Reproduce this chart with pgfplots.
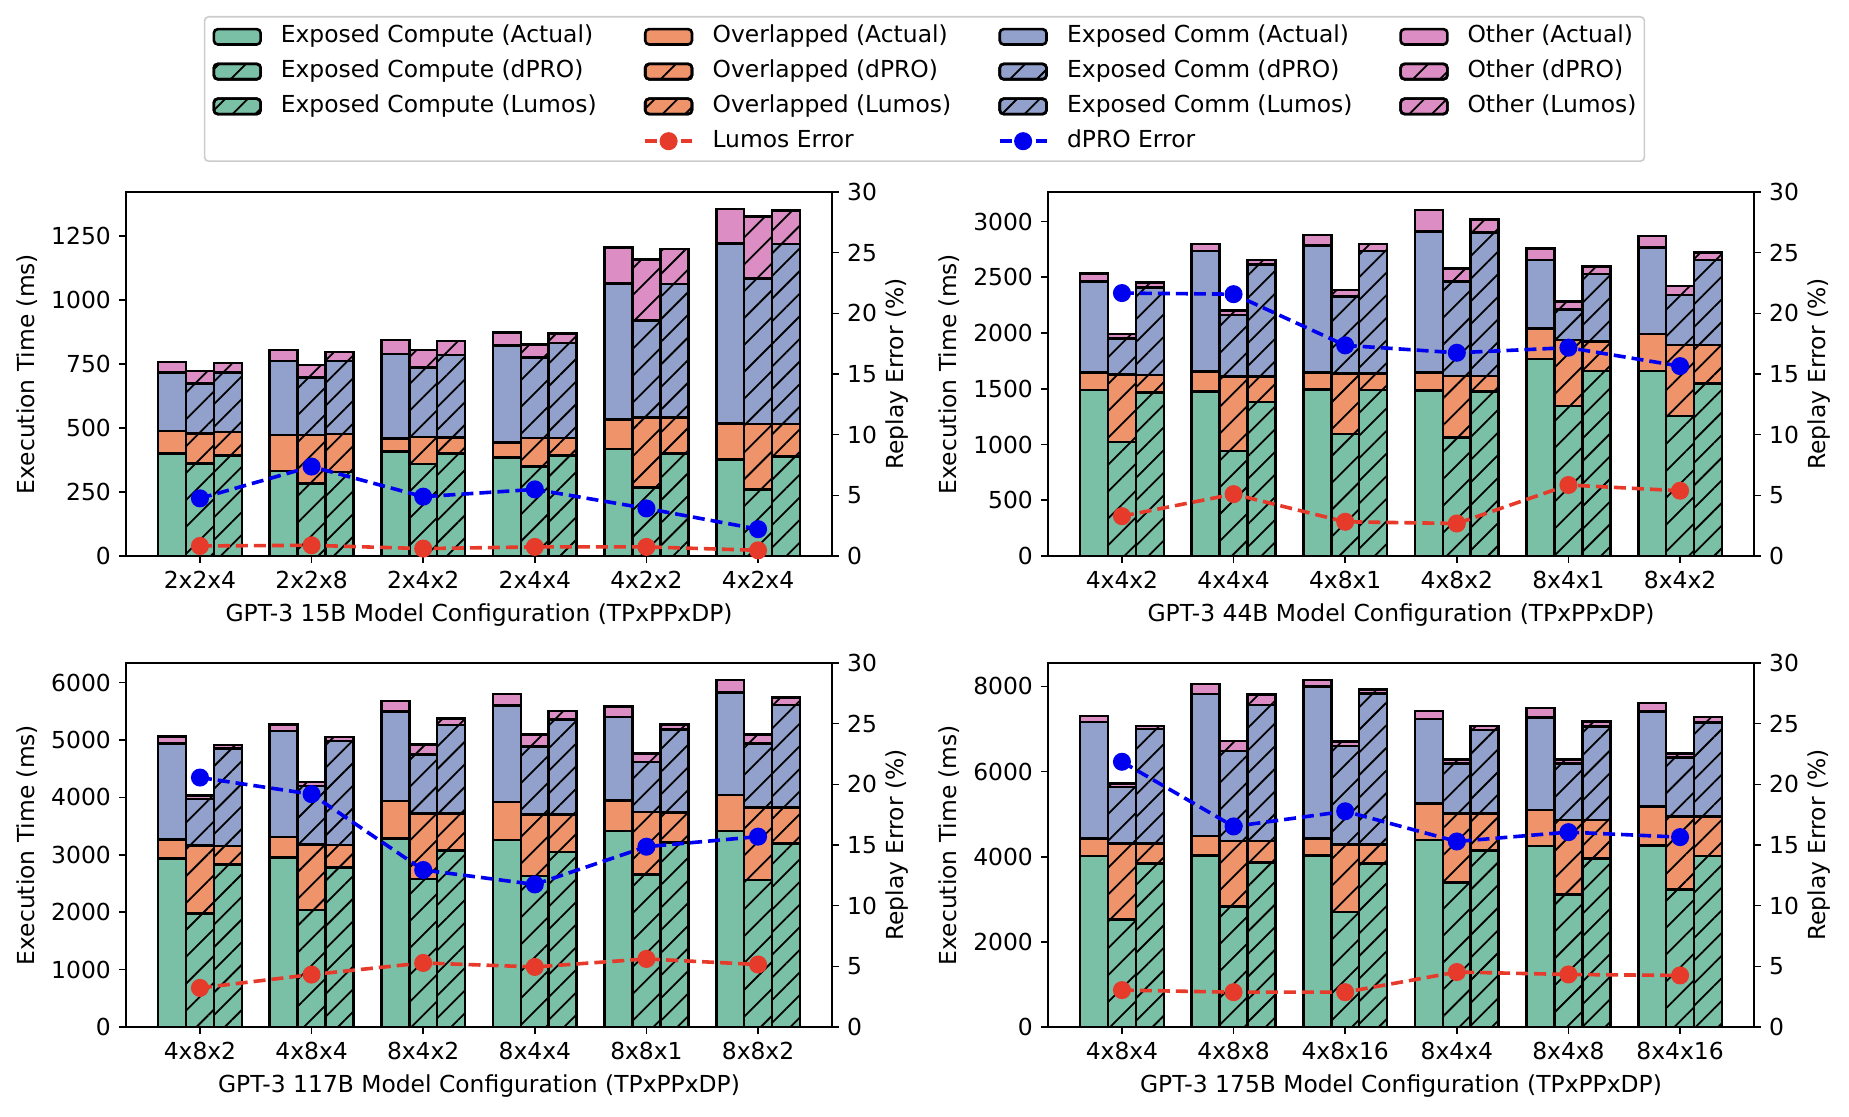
\documentclass[border=0pt]{standalone}
\usepackage{fontspec}
\setmainfont{DejaVu Sans}
\usepackage{pgfplots}
\usepackage{pgfplotstable}
\pgfplotsset{compat=1.18}
\usetikzlibrary{patterns.meta}

\definecolor{cg}{RGB}{122,192,166}
\definecolor{co}{RGB}{238,147,106}
\definecolor{cb}{RGB}{146,161,203}
\definecolor{cp}{RGB}{220,142,196}
\definecolor{cr}{RGB}{230,58,42}
\definecolor{cbl}{RGB}{0,0,240}

% x: group; a*=Actual, d*=dPRO, l*=Lumos; c=compute, o=overlapped, m=comm, t=other; le/de = errors (%)
\pgfplotstableread{
x ac ao am at dc do dm dt lc lo lm lt le de
0 401 87 229 42 362 117 196 49 394 91 233 37 0.83 4.75
1 332 141 290 42 283 190 224 49 329 148 286 35 0.88 7.37
2 408 52 330 55 359 106 273 68 401 63 322 55 0.61 4.89
3 384 60 378 52 351 111 315 50 393 69 370 37 0.75 5.49
4 418 116 531 142 268 273 380 238 401 140 522 137 0.75 3.92
5 377 142 702 135 260 256 569 242 388 128 704 131 0.47 2.21
}\tTL
\pgfplotstableread{
x ac ao am at dc do dm dt lc lo lm lt le de
0 1488 159 814 75 1024 605 323 39 1467 156 787 42 3.28 21.67
1 1473 180 1084 62 943 665 554 39 1383 225 1009 39 5.10 21.58
2 1494 150 1140 96 1093 545 688 60 1488 150 1099 62 2.82 17.36
3 1482 162 1266 195 1063 551 847 120 1473 141 1287 120 2.68 16.75
4 1766 276 614 104 1347 590 276 70 1659 263 608 66 5.85 17.17
5 1659 332 775 105 1254 638 449 81 1548 344 764 66 5.38 15.65
}\tTR
\pgfplotstableread{
x ac ao am at dc do dm dt lc lo lm lt le de
0 2936 331 1675 116 1977 1186 807 60 2831 320 1698 64 3.22 20.56
1 2948 360 1849 116 2035 1145 1018 69 2773 396 1814 69 4.32 19.19
2 3285 651 1558 186 2581 1140 1029 174 3076 645 1541 116 5.28 12.94
3 3256 663 1686 192 2628 1075 1181 215 3047 656 1657 146 4.95 11.75
4 3413 535 1453 180 2657 1087 872 151 3209 524 1453 87 5.61 14.86
5 3413 628 1785 215 2558 1262 1122 157 3192 628 1790 128 5.15 15.69
}\tBL
\pgfplotstableread{
x ac ao am at dc do dm dt lc lo lm lt le de
0 4016 415 2738 141 2525 1789 1325 86 3843 471 2682 79 3.04 21.86
1 4031 455 3334 235 2824 1545 2117 236 3859 510 3192 243 2.87 16.53
2 4031 393 3576 149 2706 1584 2314 102 3843 447 3545 87 2.87 17.78
3 4392 855 1984 196 3388 1632 1176 94 4149 871 1953 102 4.53 15.29
4 4251 847 2173 219 3114 1749 1325 102 3961 902 2196 117 4.33 16.06
5 4267 909 2228 204 3231 1710 1388 102 4016 925 2212 133 4.25 15.65
}\tBR

\pgfplotsset{
  /pgf/number format/assume math mode=true,
  /pgf/number format/1000 sep={},
  panel/.style={scale only axis, width=353pt, height=182pt,
    xmin=-0.6625, xmax=5.6625, ymin=0, enlargelimits=false,
    tick align=outside, major tick length=3.5pt,
    tick style={line width=0.8pt, black},
    axis line style={line width=0.8pt},
    anchor=south west},
  bs/.style={draw=black, line width=1.3pt},
  hd/.style={postaction={pattern={Lines[angle=45,distance=9.5pt,line width=0.9pt]}, pattern color=black}},
  hl/.style={postaction={pattern={Lines[angle=45,distance=8pt,line width=0.9pt]}, pattern color=black}},
  lerr/.style={cr, line width=1.8pt, dash pattern=on 6pt off 3pt, mark=*, mark size=3.6pt, mark options={solid, fill=cr, draw=cr}},
  derr/.style={cbl, line width=1.8pt, dash pattern=on 6pt off 3pt, mark=*, mark size=3.6pt, mark options={solid, fill=cbl, draw=cbl}},
  barleg/.style={legend image code/.code={\draw[##1] (0pt,-3.85pt) rectangle (23.4pt,3.85pt);}},
  lineleg/.style={legend image code/.code={\draw[##1, mark repeat=2, mark phase=2] plot coordinates {(0pt,0pt) (11.7pt,0pt) (23.4pt,0pt)};}},
}

% #1 x, #2 y, #3 table, #4 ymax, #5 yticks, #6 xticklabels, #7 xlabel
\newcommand{\panel}[7]{%
\begin{axis}[panel, at={(#1,#2)}, ymax=#4, ytick={#5},
    xtick={0,1,2,3,4,5}, xticklabels={#6}, xlabel={#7}, ylabel={Execution Time (ms)},
    tick pos=left,
    every axis x label/.style={at={(axis description cs:0.5,-0.162)}, anchor=center},
    every axis y label/.style={at={(axis description cs:-0.1402,0.5)}, rotate=90, anchor=center},
    ybar stacked, bar width=0.25]
  \addplot[bs, fill=cg, bar shift=-0.25] table[x=x,y=ac]{#3};
  \addplot[bs, fill=co, bar shift=-0.25] table[x=x,y=ao]{#3};
  \addplot[bs, fill=cb, bar shift=-0.25] table[x=x,y=am]{#3};
  \addplot[bs, fill=cp, bar shift=-0.25] table[x=x,y=at]{#3};
\end{axis}
\begin{axis}[panel, at={(#1,#2)}, ymax=#4, hide axis, ybar stacked, bar width=0.25]
  \addplot[bs, fill=cg, hd, bar shift=0] table[x=x,y=dc]{#3};
  \addplot[bs, fill=co, hd, bar shift=0] table[x=x,y=do]{#3};
  \addplot[bs, fill=cb, hd, bar shift=0] table[x=x,y=dm]{#3};
  \addplot[bs, fill=cp, hd, bar shift=0] table[x=x,y=dt]{#3};
\end{axis}
\begin{axis}[panel, at={(#1,#2)}, ymax=#4, hide axis, ybar stacked, bar width=0.25]
  \addplot[bs, fill=cg, hl, bar shift=0.25] table[x=x,y=lc]{#3};
  \addplot[bs, fill=co, hl, bar shift=0.25] table[x=x,y=lo]{#3};
  \addplot[bs, fill=cb, hl, bar shift=0.25] table[x=x,y=lm]{#3};
  \addplot[bs, fill=cp, hl, bar shift=0.25] table[x=x,y=lt]{#3};
\end{axis}
\begin{axis}[panel, at={(#1,#2)}, ymax=30, ytick={0,5,...,30},
    axis y line*=right, axis x line=none, ylabel={Replay Error (\%)},
    every axis y label/.style={at={(axis description cs:1.0922,0.5)}, rotate=90, anchor=center}]
  \addplot[lerr] table[x=x,y=le]{#3};
  \addplot[derr] table[x=x,y=de]{#3};
\end{axis}}

\begin{document}
\fontsize{11.7}{14}\selectfont
\begin{tikzpicture}
\useasboundingbox (0,0) rectangle (924.5pt,558pt);
\panel{63pt}{280pt}{\tTL}{1423}{0,250,...,1250}{2x2x4,2x2x8,2x4x2,2x4x4,4x2x2,4x2x4}{GPT-3 15B Model Configuration (TPxPPxDP)}
\panel{524pt}{280pt}{\tTR}{3265}{0,500,...,3000}{4x4x2,4x4x4,4x8x1,4x8x2,8x4x1,8x4x2}{GPT-3 44B Model Configuration (TPxPPxDP)}
\panel{63pt}{44.5pt}{\tBL}{6340}{0,1000,...,6000}{4x8x2,4x8x4,8x4x2,8x4x4,8x8x1,8x8x2}{GPT-3 117B Model Configuration (TPxPPxDP)}
\panel{524pt}{44.5pt}{\tBR}{8550}{0,2000,...,8000}{4x8x4,4x8x8,4x8x16,8x4x4,8x4x8,8x4x16}{GPT-3 175B Model Configuration (TPxPPxDP)}

\begin{axis}[hide axis, scale only axis, width=1pt, height=1pt, anchor=center,
    at={(462.25pt,513.5pt)}, xmin=0, xmax=1, ymin=0, ymax=1,
    legend columns=4, legend cell align=left,
    legend style={at={(0.5,0.5)}, anchor=center, draw=black!20, line width=0.8pt,
      rounded corners=2pt, inner xsep=4pt, inner ysep=4.5pt,
      row sep=6.4pt,
      nodes={inner sep=0pt, text height=8.6pt, text depth=2.4pt},
      /tikz/every odd column/.append style={column sep=9.4pt},
      /tikz/every even column/.append style={column sep=23.4pt}}]
  \addlegendimage{barleg, bs, fill=cg}\addlegendentry{Exposed Compute (Actual)}
  \addlegendimage{barleg, bs, fill=co}\addlegendentry{Overlapped (Actual)}
  \addlegendimage{barleg, bs, fill=cb}\addlegendentry{Exposed Comm (Actual)}
  \addlegendimage{barleg, bs, fill=cp}\addlegendentry{Other (Actual)}
  \addlegendimage{barleg, bs, fill=cg, hd}\addlegendentry{Exposed Compute (dPRO)}
  \addlegendimage{barleg, bs, fill=co, hd}\addlegendentry{Overlapped (dPRO)}
  \addlegendimage{barleg, bs, fill=cb, hd}\addlegendentry{Exposed Comm (dPRO)}
  \addlegendimage{barleg, bs, fill=cp, hd}\addlegendentry{Other (dPRO)}
  \addlegendimage{barleg, bs, fill=cg, hl}\addlegendentry{Exposed Compute (Lumos)}
  \addlegendimage{barleg, bs, fill=co, hl}\addlegendentry{Overlapped (Lumos)}
  \addlegendimage{barleg, bs, fill=cb, hl}\addlegendentry{Exposed Comm (Lumos)}
  \addlegendimage{barleg, bs, fill=cp, hl}\addlegendentry{Other (Lumos)}
  \addlegendimage{empty legend}\addlegendentry{}
  \addlegendimage{lineleg, lerr}\addlegendentry{Lumos Error}
  \addlegendimage{lineleg, derr}\addlegendentry{dPRO Error}
  \addlegendimage{empty legend}\addlegendentry{}
\end{axis}
\end{tikzpicture}
\end{document}
